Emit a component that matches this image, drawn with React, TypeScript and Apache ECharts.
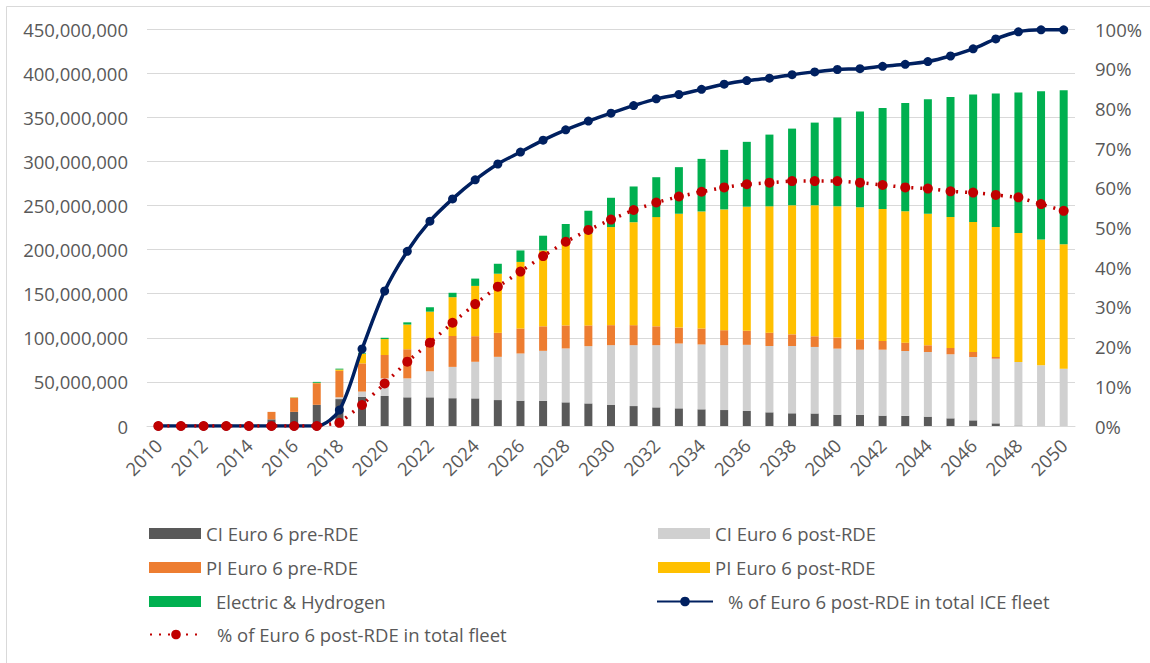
import React, { useEffect, useRef } from "react";
import * as echarts from "echarts";

const years = Array.from({ length: 41 }, (_, i) => String(2010 + i));

// values in millions of vehicles
const ciPre = [0, 0, 0, 0, 0, 7.5, 16, 24, 30.5, 33, 34, 32.5, 32.5, 31.5, 31.3, 29.4, 28.7, 28.5, 26.8, 25.6, 23.8, 22.6, 21.1, 20, 18.9, 18.1, 17, 15.5, 14.4, 14.2, 12.8, 12.6, 11.7, 11.5, 10.6, 8.7, 6.4, 3, 0.5, 0, 0];
const ciPost = [0, 0, 0, 0, 0, 0, 0, 0, 2, 6, 20, 21.5, 29.5, 35.5, 41.5, 49, 53.5, 56.7, 61.1, 64.9, 67.8, 69, 70.5, 73.5, 73.5, 73.5, 75, 75.2, 76.3, 75.4, 74.9, 73.9, 74.8, 73.5, 73.3, 72.6, 71.8, 73.3, 72.1, 68.8, 65];
const piPre = [0, 0, 0, 0, 0, 8.5, 16, 24.5, 30, 32, 26.5, 33, 36, 35, 29, 27.2, 28.3, 27.8, 26.1, 23.5, 22.7, 22.7, 21.4, 18.1, 18.1, 17, 16, 15.1, 13.2, 12.1, 12.5, 11.8, 9.9, 9.5, 7.6, 7.1, 5.7, 1.9, 0, 0, 0];
const piPost = [0, 0, 0, 0, 0, 0, 0.3, 0.5, 1.5, 11, 18, 28, 31.6, 44, 57, 67, 75.5, 86, 95.6, 104, 111.2, 116.7, 123.8, 129, 132.7, 136.9, 140.6, 143.2, 146.3, 148.5, 148.8, 149.6, 149.6, 148.9, 149.2, 148.6, 147.4, 147.4, 146.2, 142.5, 141];
const electric = [0, 0, 0, 0, 0, 0, 0.2, 1, 1, 1, 1.5, 2.5, 5, 5, 8.3, 11.3, 13, 16.7, 19.4, 26, 33.2, 40.5, 45.2, 52.8, 59.6, 67.5, 73.5, 81.3, 86.9, 93.7, 100.6, 108.5, 114.5, 122.8, 129.7, 136, 144.4, 151.2, 159.2, 168.1, 174.6];
// percentages
const shareIce = [0, 0, 0, 0, 0, 0, 0, 0, 4, 19.4, 34, 44, 51.6, 57.2, 62, 66, 69, 72, 74.6, 76.8, 78.8, 80.7, 82.4, 83.5, 84.8, 86.1, 87, 87.6, 88.5, 89.2, 89.8, 90, 90.6, 91.1, 91.8, 93.2, 95, 97.5, 99.3, 99.8, 99.8];
const shareTotal = [0, 0, 0, 0, 0, 0, 0, 0, 0.8, 5.3, 10.7, 16.2, 21, 26, 30.7, 35.1, 38.9, 42.8, 46.4, 49.4, 52, 54.4, 56.3, 57.8, 59, 60.1, 60.9, 61.3, 61.7, 61.7, 61.7, 61.3, 60.7, 60.1, 59.8, 59.1, 58.8, 58.2, 57.6, 55.9, 54.2];

const names = {
  ciPre: "CI Euro 6 pre-RDE",
  ciPost: "CI Euro 6 post-RDE",
  piPre: "PI Euro 6 pre-RDE",
  piPost: "PI Euro 6 post-RDE",
  el: "Electric & Hydrogen",
  ice: "% of Euro 6 post-RDE in total ICE fleet",
  tot: "% of Euro 6 post-RDE in total fleet",
};

const FONT = "Open Sans";
const TXT = "#595959";

function legendItem(name: string, left: number, top: number, rect: boolean, extraPad: number, iw: number) {
  return {
    data: [rect ? { name, icon: "rect" } : { name }],
    left,
    top,
    padding: 0,
    itemWidth: iw,
    itemHeight: rect ? 11 : 12,
    selectedMode: false,
    formatter: "{a|{name}}",
    textStyle: {
      fontFamily: FONT,
      fontSize: 18.5,
      color: TXT,
      rich: { a: { fontFamily: FONT, fontSize: 18.5, color: TXT, padding: [0, 0, 0, extraPad] } },
    },
  };
}

export default function App() {
  const ref = useRef<HTMLDivElement>(null);
  useEffect(() => {
    document.body.style.margin = "0";
    const chart = echarts.init(ref.current!, undefined, { renderer: "svg" });
    const mil = (a: number[]) => a.map((v) => v * 1e6);
    const barBase = { type: "bar", stack: "fleet", barWidth: 8, yAxisIndex: 0 };
    chart.setOption({
      animation: false,
      backgroundColor: "#ffffff",
      grid: { left: 147, right: 75, top: 29, bottom: 237 },
      xAxis: {
        type: "category",
        data: years,
        axisLine: { show: true, lineStyle: { color: "#d9d9d9" } },
        axisTick: { show: false },
        axisLabel: { interval: 1, rotate: 45, margin: 16, fontFamily: FONT, fontSize: 18.5, color: TXT },
      },
      yAxis: [
        {
          type: "value",
          min: 0,
          max: 450e6,
          interval: 50e6,
          axisLabel: {
            margin: 19,
            fontFamily: FONT,
            fontSize: 18.5,
            color: TXT,
            formatter: (v: number) => (v === 0 ? "0" : v.toLocaleString("en-US")),
          },
          splitLine: { lineStyle: { color: "#d9d9d9", width: 1 } },
        },
        {
          type: "value",
          min: 0,
          max: 100,
          interval: 10,
          axisLabel: { margin: 20, fontFamily: FONT, fontSize: 18.5, color: TXT, formatter: "{value}%" },
          splitLine: { show: false },
        },
      ],
      legend: [
        legendItem(names.ciPre, 149, 524, true, 0, 52),
        legendItem(names.piPre, 149, 558, true, 0, 52),
        legendItem(names.el, 149, 592, true, 10, 52),
        legendItem(names.tot, 149, 625, false, 10, 52),
        legendItem(names.ciPost, 658, 524, true, 0, 52),
        legendItem(names.piPost, 658, 558, true, 0, 52),
        legendItem(names.ice, 656, 592, false, 10, 56),
      ],
      series: [
        { ...barBase, name: names.ciPre, data: mil(ciPre), itemStyle: { color: "#595959" } },
        { ...barBase, name: names.ciPost, data: mil(ciPost), itemStyle: { color: "#d0d0d0" } },
        { ...barBase, name: names.piPre, data: mil(piPre), itemStyle: { color: "#ed7d31" } },
        { ...barBase, name: names.piPost, data: mil(piPost), itemStyle: { color: "#ffc000" } },
        { ...barBase, name: names.el, data: mil(electric), itemStyle: { color: "#00b050" } },
        {
          type: "line",
          name: names.ice,
          yAxisIndex: 1,
          data: shareIce,
          smooth: 0.3,
          symbol: "circle",
          symbolSize: 9,
          lineStyle: { color: "#002060", width: 3.5 },
          itemStyle: { color: "#002060" },
        },
        {
          type: "line",
          name: names.tot,
          yAxisIndex: 1,
          data: shareTotal,
          symbol: "circle",
          symbolSize: 10,
          lineStyle: { color: "#c00000", width: 3.5, type: [2, 7] },
          itemStyle: { color: "#c00000" },
        },
      ],
      graphic: [
        {
          type: "rect",
          shape: { x: 6.5, y: 6.5, width: 1160, height: 700 },
          style: { fill: "none", stroke: "#d9d9d9", lineWidth: 1 },
          silent: true,
          z: 100,
        },
      ],
    });
    return () => chart.dispose();
  }, []);
  return <div ref={ref} style={{ width: 1150, height: 663 }} />;
}
